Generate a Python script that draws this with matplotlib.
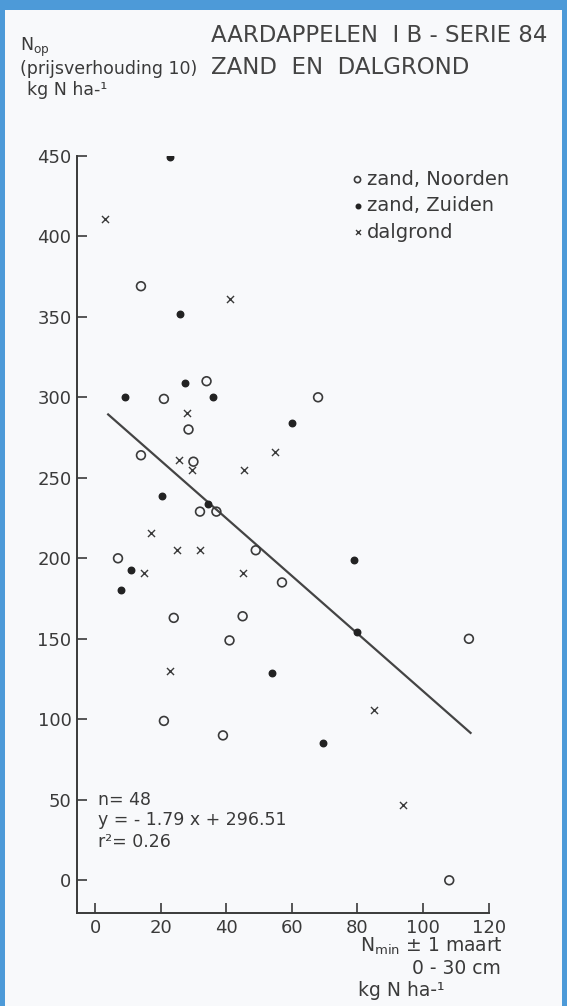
import numpy as np
import matplotlib.pyplot as plt
from matplotlib.patches import Rectangle

# zand, Noorden (open rondjes)
noord_x = [14, 34, 21, 68, 28.5, 14, 30, 32, 37, 49, 7, 57, 24, 45, 41, 114, 21, 39, 108]
noord_y = [369, 310, 299, 300, 280, 264, 260, 229, 229, 205, 200, 185, 163, 164, 149, 150, 99, 90, 0]

# zand, Zuiden (dichte punten)
zuid_x = [23, 26, 27.5, 9, 36, 60, 20.5, 34.5, 11, 8, 79, 80, 54, 69.5]
zuid_y = [449, 352, 309, 300, 300, 284, 239, 234, 193, 180, 199, 154, 129, 85]

# dalgrond (kruisjes)
dal_x = [3, 41, 28, 25.5, 29.5, 45.5, 55, 17, 25, 32, 15, 45, 23, 85, 94]
dal_y = [411, 361, 290, 261, 255, 255, 266, 216, 205, 205, 191, 191, 130, 106, 47]

# regressielijn
slope, intercept = -1.79, 296.51
line_x = [4, 114.5]

x_ticks = [0, 20, 40, 60, 80, 100, 120]
y_ticks = [0, 50, 100, 150, 200, 250, 300, 350, 400, 450]

ink = '#3a3a3a'
plt.rcParams['font.family'] = ['DejaVu Sans']

W, H = 567, 1006
fig = plt.figure(figsize=(W / 100, H / 100), dpi=100, facecolor='#4d9ad8')
fig.patches.append(Rectangle((5 / W, 0), 557 / W, 996 / H, transform=fig.transFigure,
                             facecolor='#f8f9fb', edgecolor='none', zorder=-5))

# assen in pixels: x=0 op px 95, 3.28 px per eenheid; y=0 op px 880, 1.61 px per eenheid
left, right = 77, 488.6
top, bottom = 155.8, 913.3
ax = fig.add_axes([left / W, 1 - bottom / H, (right - left) / W, (bottom - top) / H])
ax.set_facecolor('none')
ax.set_zorder(2)
ax.set_xlim(-5.5, 120)
ax.set_ylim(-20.5, 450)

ax.scatter(noord_x, noord_y, s=40, facecolors='none', edgecolors=ink, linewidths=1.2,
           label='zand, Noorden', zorder=3)
ax.scatter(zuid_x, zuid_y, s=22, color='#222222', label='zand, Zuiden', zorder=3)
ax.scatter(dal_x, dal_y, s=26, marker='x', color=ink, linewidths=1.0,
           label='dalgrond', zorder=3)

lx = np.array(line_x)
ax.plot(lx, slope * lx + intercept, color='#444444', lw=1.6, zorder=2)

for s in ['top', 'right']:
    ax.spines[s].set_visible(False)
for s in ['left', 'bottom']:
    ax.spines[s].set_color(ink)
    ax.spines[s].set_linewidth(1.4)

ax.set_xticks(x_ticks)
ax.set_yticks(y_ticks)
ax.tick_params(direction='in', length=7, width=1.2, colors=ink, labelsize=13, pad=4)

ax.text(1, 50, 'n= 48', fontsize=12.5, color=ink, va='center')
ax.text(1, 37.5, 'y = - 1.79 x + 296.51', fontsize=12.5, color=ink, va='center')
ax.text(1, 24, 'r²= 0.26', fontsize=12.5, color=ink, va='center')

leg = ax.legend(loc='upper left', bbox_to_anchor=(340 / W, 1 - 160 / H),
                bbox_transform=fig.transFigure, frameon=False, fontsize=14,
                handletextpad=0.1, handlelength=0.8, labelspacing=0.38,
                borderpad=0, markerscale=0.7)
for t in leg.get_texts():
    t.set_color(ink)

# titel en aslabels
fig.text(211 / W, 1 - 35 / H, 'AARDAPPELEN  I B - SERIE 84', fontsize=16.5, color='#444444', va='center')
fig.text(211 / W, 1 - 68 / H, 'ZAND  EN  DALGROND', fontsize=16.5, color='#444444', va='center')

fig.text(20 / W, 1 - 47 / H, r'N$_{\mathrm{op}}$', fontsize=12.5, color=ink, va='center')
fig.text(20 / W, 1 - 69 / H, '(prijsverhouding 10)', fontsize=12.5, color=ink, va='center')
fig.text(27 / W, 1 - 90 / H, 'kg N ha-¹', fontsize=12.5, color=ink, va='center')

fig.text(503 / W, 1 - 946 / H, r'N$_{\mathrm{min}}$ ± 1 maart', fontsize=13.5, color=ink,
         va='center', ha='right')
fig.text(501 / W, 1 - 968 / H, '0 - 30 cm', fontsize=13.5, color=ink, va='center', ha='right')
fig.text(358 / W, 1 - 990 / H, 'kg N ha-¹', fontsize=13.5, color=ink, va='center')

fig.savefig('out.png', dpi=100, facecolor=fig.get_facecolor())
